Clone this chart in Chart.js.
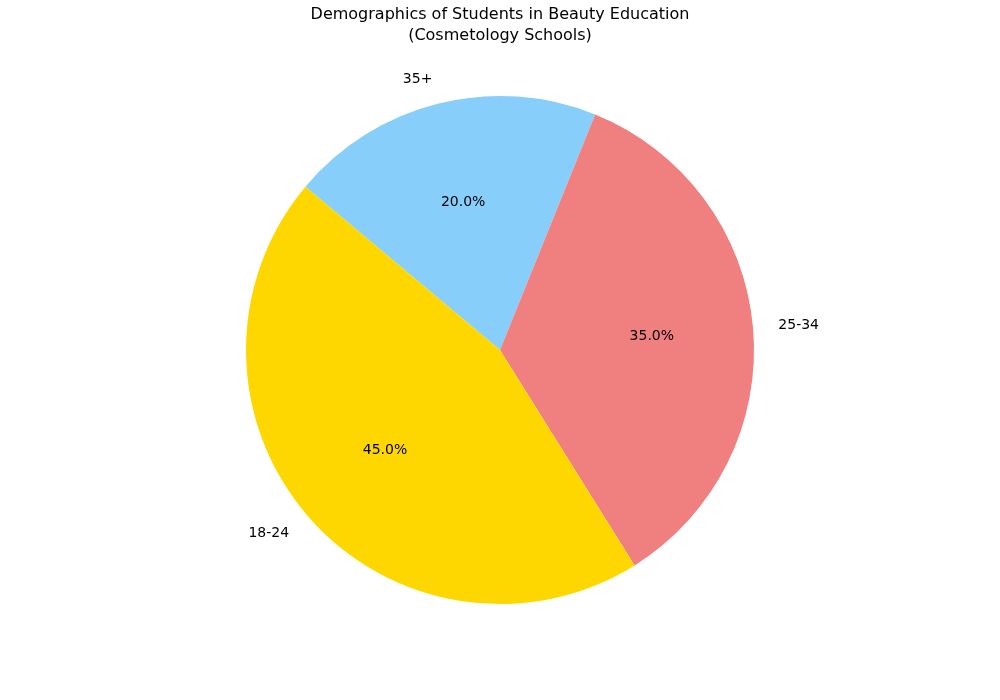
<!DOCTYPE html>
<html>
<head>
<meta charset="utf-8">
<script src="https://cdn.jsdelivr.net/npm/chart.js@4"></script>
<style>
  html, body { margin: 0; padding: 0; background: #fff; }
  #wrap { width: 1000px; height: 700px; }
</style>
</head>
<body>
<div id="wrap"><canvas id="pieChart"></canvas></div>
<script>
// drawn clockwise in Chart.js, so order is reversed from the matplotlib one
const ageGroups = ['35+', '25-34', '18-24'];
const sharePct = [20, 35, 45];
const sliceColors = ['#87CEFA', '#F08080', '#FFD700'];
const titleLines = ['Demographics of Students in Beauty Education', '(Cosmetology Schools)'];

const pieText = {
    id: 'pieText',
    afterDraw(chart) {
        const c = chart.ctx;
        const meta = chart.getDatasetMeta(0);
        const total = sharePct.reduce((a, b) => a + b, 0);
        c.save();
        c.fillStyle = '#000';
        c.textAlign = 'center';
        c.textBaseline = 'middle';
        c.font = '14px "DejaVu Sans"';
        meta.data.forEach((arc, i) => {
            const p = arc.getProps(['x', 'y', 'startAngle', 'endAngle', 'outerRadius'], true);
            const mid = (p.startAngle + p.endAngle) / 2;
            const r = p.outerRadius;
            c.fillText((sharePct[i] / total * 100).toFixed(1) + '%',
                p.x + Math.cos(mid) * r * 0.6, p.y + Math.sin(mid) * r * 0.6);
            const lx = p.x + Math.cos(mid) * r * 1.1;
            const ly = p.y + Math.sin(mid) * r * 1.1;
            c.textAlign = Math.cos(mid) >= 0 ? 'left' : 'right';
            c.fillText(ageGroups[i], lx, ly);
            c.textAlign = 'center';
        });
        c.font = '16px "DejaVu Sans"';
        c.fillText(titleLines[0], 500, 15);
        c.fillText(titleLines[1], 500, 36);
        c.restore();
    }
};

document.addEventListener('DOMContentLoaded', function () {
    const ctx = document.getElementById('pieChart').getContext('2d');
    new Chart(ctx, {
        type: 'pie',
        data: {
            labels: ageGroups,
            datasets: [{
                data: sharePct,
                backgroundColor: sliceColors,
                borderWidth: 0
            }]
        },
        options: {
            responsive: true,
            maintainAspectRatio: false,
            animation: false,
            rotation: -50,
            layout: { padding: { top: 96, bottom: 96, left: 0, right: 0 } },
            plugins: {
                legend: { display: false },
                title: { display: false },
                tooltip: { enabled: false }
            }
        },
        plugins: [pieText]
    });
});
</script>
</body>
</html>
